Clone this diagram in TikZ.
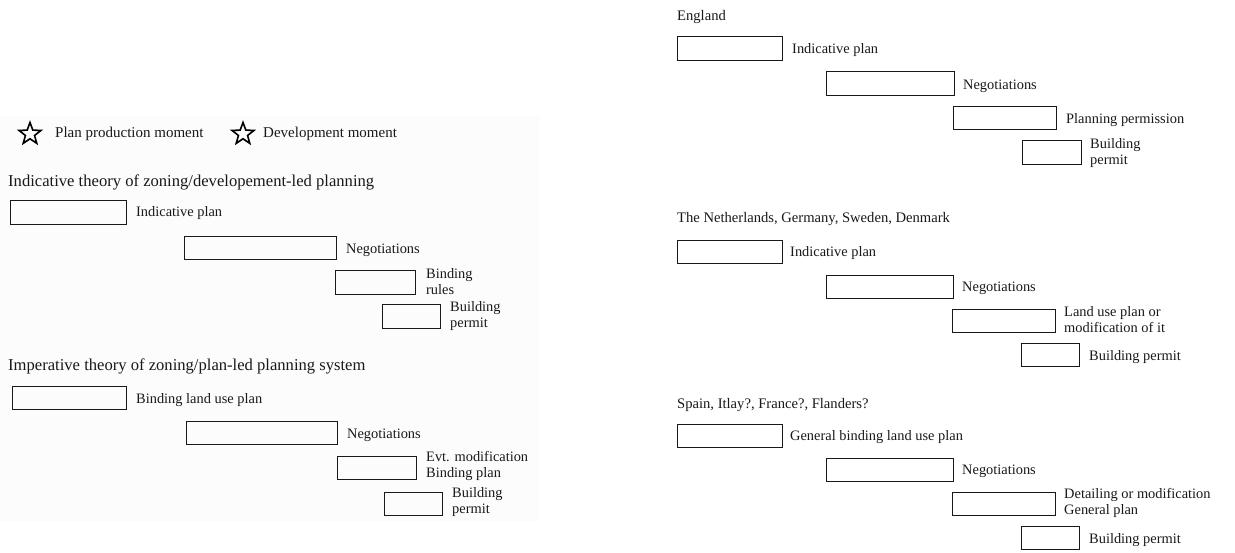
\documentclass[tikz,border=0pt]{standalone}
\usepackage{fontspec}
\setmainfont{Liberation Serif}
\usetikzlibrary{shapes.geometric}
\begin{document}
\begin{tikzpicture}[x=1pt,y=-1pt,
  box/.style={draw=black!90, line width=1.3pt, inner sep=0pt, anchor=north west},
  lbl/.style={anchor=west, inner sep=0pt, align=left, font=\fontsize{14.4}{16}\selectfont, text=black!90},
  ttl/.style={anchor=west, inner sep=0pt, font=\fontsize{16.6}{19}\selectfont, text=black!90},
  rttl/.style={anchor=west, inner sep=0pt, font=\fontsize{14.6}{17}\selectfont, text=black!90},
  starsym/.style={star, star points=5, star point ratio=2.4, draw=black, line width=1.6pt, minimum size=23pt, inner sep=0pt}]
\useasboundingbox (0,0) rectangle (1235,553);
\fill[white] (0,0) rectangle (1235,553);
\fill[black!1.2] (0,116) rectangle (539,521);
% legend
\node[starsym] (s1) at (30,134) {};
\node[lbl, font=\fontsize{15}{17}\selectfont] (l1) at (55,134) {Plan production moment};
\node[starsym] (s2) at (243,134) {};
\node[lbl, font=\fontsize{15}{17}\selectfont] (l2) at (263,134) {Development moment};
% left panel 1
\node[ttl] (t1) at (8,182) {Indicative theory of zoning/developement-led planning};
\node[box, minimum width=116pt, minimum height=24pt] (a1) at (10,200) {};
\node[lbl] (a1l) at (136,213) {Indicative plan};
\node[box, minimum width=152pt, minimum height=23pt] (a2) at (184,236) {};
\node[lbl] (a2l) at (346,250) {Negotiations};
\node[box, minimum width=80pt, minimum height=24pt] (a3) at (335,270) {};
\node[lbl] (a3l) at (426,282) {Binding\\rules};
\node[box, minimum width=58pt, minimum height=24pt] (a4) at (382,304) {};
\node[lbl] (a4l) at (450,316) {Building\\permit};
% left panel 2
\node[ttl] (t2) at (8,366) {Imperative theory of zoning/plan-led planning system};
\node[box, minimum width=114pt, minimum height=23pt] (b1) at (12,386) {};
\node[lbl] (b1l) at (136,400) {Binding land use plan};
\node[box, minimum width=151pt, minimum height=23pt] (b2) at (186,421) {};
\node[lbl] (b2l) at (347,435) {Negotiations};
\node[box, minimum width=79pt, minimum height=23pt] (b3) at (337,456) {};
\node[lbl] (b3l) at (426,466) {Evt. modification\\Binding plan};
\node[box, minimum width=58pt, minimum height=23pt] (b4) at (384,492) {};
\node[lbl] (b4l) at (452,502) {Building\\permit};
% England
\node[rttl] (t3) at (677,17) {England};
\node[box, minimum width=105pt, minimum height=24pt] (c1) at (677,36) {};
\node[lbl] (c1l) at (792,50) {Indicative plan};
\node[box, minimum width=128pt, minimum height=24pt] (c2) at (826,71) {};
\node[lbl] (c2l) at (963,86) {Negotiations};
\node[box, minimum width=103pt, minimum height=23pt] (c3) at (953,106) {};
\node[lbl] (c3l) at (1066,120) {Planning permission};
\node[box, minimum width=59pt, minimum height=24pt] (c4) at (1022,140) {};
\node[lbl] (c4l) at (1090,153) {Building\\permit};
% Netherlands
\node[rttl] (t4) at (677,219) {The Netherlands, Germany, Sweden, Denmark};
\node[box, minimum width=105pt, minimum height=23pt] (d1) at (677,240) {};
\node[lbl] (d1l) at (790,253) {Indicative plan};
\node[box, minimum width=127pt, minimum height=23pt] (d2) at (826,275) {};
\node[lbl] (d2l) at (962,288) {Negotiations};
\node[box, minimum width=103pt, minimum height=23pt] (d3) at (952,309) {};
\node[lbl] (d3l) at (1064,320) {Land use plan or\\modification of it};
\node[box, minimum width=58pt, minimum height=23pt] (d4) at (1021,343) {};
\node[lbl] (d4l) at (1089,357) {Building permit};
% Spain
\node[rttl] (t5) at (677,405) {Spain, Itlay?, France?, Flanders?};
\node[box, minimum width=105pt, minimum height=23pt] (e1) at (677,424) {};
\node[lbl] (e1l) at (790,437) {General binding land use plan};
\node[box, minimum width=127pt, minimum height=23pt] (e2) at (826,458) {};
\node[lbl] (e2l) at (962,471) {Negotiations};
\node[box, minimum width=103pt, minimum height=23pt] (e3) at (952,492) {};
\node[lbl] (e3l) at (1064,503) {Detailing or modification\\General plan};
\node[box, minimum width=58pt, minimum height=23pt] (e4) at (1021,526) {};
\node[lbl] (e4l) at (1089,540) {Building permit};
\end{tikzpicture}
\end{document}
